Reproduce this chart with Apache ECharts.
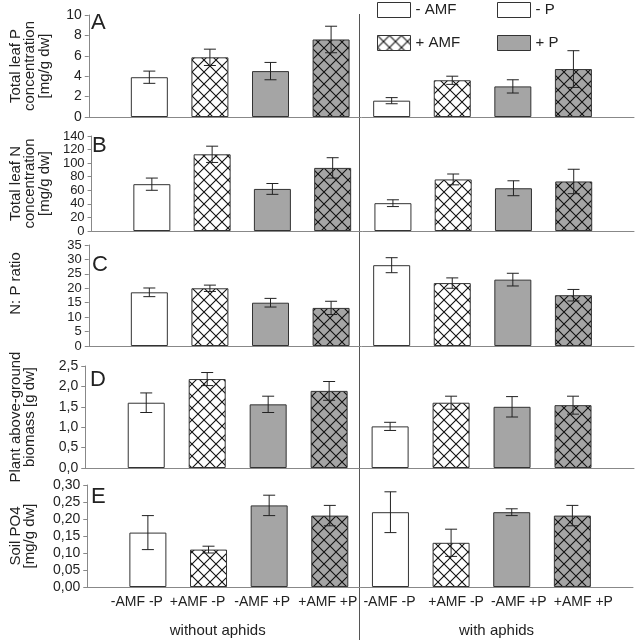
<!DOCTYPE html>
<html>
<head>
<meta charset="utf-8">
<script src="https://cdn.jsdelivr.net/npm/echarts@6/dist/echarts.min.js"></script>
<style>
    html, body { margin: 0; padding: 0; background: #fff; }
    #chart { width: 636px; height: 640px; }
</style>
</head>
<body>
<div id="chart"></div>
<script>
// bar order inside each aphid group
var treatments = ["-AMF -P", "+AMF -P", "-AMF +P", "+AMF +P"];
var aphidGroups = ["without aphids", "with aphids"];
var legendAMF = ["- AMF", "+ AMF"];
var legendP = ["- P", "+ P"];

// 4 bars without aphids, then 4 bars with aphids
var leafP = [3.9, 5.85, 4.5, 7.6, 1.6, 3.6, 3.0, 4.7];
var leafPErr = [0.6, 0.8, 0.85, 1.3, 0.3, 0.4, 0.65, 1.8];
var leafN = [69, 113, 62, 93, 41, 76, 63, 73];
var leafNErr = [9, 12, 8, 15, 5, 8, 11, 18];
var npRatio = [18.6, 20, 15, 13.2, 28, 21.8, 23, 17.6];
var npRatioErr = [1.5, 1.1, 1.5, 2.3, 2.6, 1.8, 2.2, 2.0];
var biomass = [1.6, 2.18, 1.56, 1.89, 1.02, 1.6, 1.5, 1.54];
var biomassErr = [0.24, 0.16, 0.2, 0.23, 0.1, 0.16, 0.25, 0.22];
var soilPO4 = [0.16, 0.11, 0.24, 0.21, 0.22, 0.13, 0.22, 0.21];
var soilPO4Err = [0.05, 0.01, 0.03, 0.03, 0.06, 0.04, 0.01, 0.03];

var FONT = "Liberation Sans, Arial, sans-serif";
var TXT = "#222";
var GRAY = "#a5a5a5";

// crosshatch fill made on a small canvas
function hatch(bg) {
    var c = document.createElement("canvas");
    c.width = 12;
    c.height = 12;
    var g = c.getContext("2d");
    g.fillStyle = bg;
    g.fillRect(0, 0, 12, 12);
    g.strokeStyle = "#111";
    g.lineWidth = 1.1;
    g.beginPath();
    g.moveTo(-1, -1); g.lineTo(13, 13);
    g.moveTo(13, -1); g.lineTo(-1, 13);
    g.stroke();
    return { image: c, repeat: "repeat" };
}

var fills = ["#fff", hatch("#fff"), GRAY, hatch(GRAY)];

var panels = [
    { key: "A", values: leafP, errs: leafPErr, max: 10, step: 2, dec: 0,
      name: "Total leaf P\nconcentration\n[mg/g dw]", top: 15, height: 102, left: 84, gap: 37, font: 14, keyTop: 12, keyLeft: 91 },
    { key: "B", values: leafN, errs: leafNErr, max: 140, step: 20, dec: 0,
      name: "Total leaf N\nconcentration\n[mg/g dw]", top: 136, height: 95, left: 84, gap: 37, font: 13, keyTop: 135, keyLeft: 92 },
    { key: "C", values: npRatio, errs: npRatioErr, max: 35, step: 5, dec: 0,
      name: "N: P ratio", top: 245, height: 101, left: 84, gap: 66, font: 13, keyTop: 254, keyLeft: 92, namePad: [0, 0, 0, 24] },
    { key: "D", values: biomass, errs: biomassErr, max: 2.5, step: 0.5, dec: 1,
      name: "Plant above-ground\nbiomass [g dw]", top: 366, height: 102, left: 82, gap: 48, font: 14, keyTop: 369, keyLeft: 90 },
    { key: "E", values: soilPO4, errs: soilPO4Err, max: 0.3, step: 0.05, dec: 2,
      name: "Soil PO4\n[mg/g dw]", top: 485, height: 102, left: 82, gap: 50, font: 14, keyTop: 486, keyLeft: 91 }
];

// x label nudges (px), the labels in the original are not under the bars
var labelShift = [-11, -11, -7, -2, -1, 5, 7, 11];

// 8 bars plus an empty slot at each end
var slots = [];
for (var s = 0; s < 10; s++) slots.push("s" + s);

var labelRich = {};
labelShift.forEach(function(sh, k) {
    labelRich["k" + k] = {
        fontSize: 14, color: TXT, fontFamily: FONT,
        padding: sh < 0 ? [0, -2 * sh, 0, 0] : [0, 0, 0, 2 * sh]
    };
});

function errorBars(params, api) {
    var x = api.value(0), v = api.value(1), e = api.value(2);
    var hi = api.coord([x, v + e]);
    var lo = api.coord([x, v - e]);
    var w = 6;
    var st = { stroke: "#222", lineWidth: 1 };
    return {
        type: "group",
        children: [
            { type: "line", shape: { x1: hi[0], y1: hi[1], x2: lo[0], y2: lo[1] }, style: st },
            { type: "line", shape: { x1: hi[0] - w, y1: hi[1], x2: hi[0] + w, y2: hi[1] }, style: st },
            { type: "line", shape: { x1: lo[0] - w, y1: lo[1], x2: lo[0] + w, y2: lo[1] }, style: st }
        ]
    };
}

var grids = [], xAxes = [], yAxes = [], series = [], titles = [];

panels.forEach(function(p, i) {
    grids.push({ left: p.left, right: 2, top: p.top, height: p.height });
    xAxes.push({
        type: "category",
        gridIndex: i,
        data: slots,
        boundaryGap: false,
        axisLine: { lineStyle: { color: "#888", width: 1 } },
        axisTick: { show: false },
        axisLabel: {
            show: i === panels.length - 1,
            interval: 0,
            margin: 8,
            formatter: function(v, idx) {
                if (idx < 1 || idx > 8) return "";
                return "{k" + (idx - 1) + "|" + treatments[(idx - 1) % 4] + "}";
            },
            rich: labelRich
        }
    });
    yAxes.push({
        type: "value",
        gridIndex: i,
        min: 0,
        max: p.max,
        interval: p.step,
        splitLine: { show: false },
        axisLine: { show: true, lineStyle: { color: "#888", width: 1 } },
        axisTick: { show: true, length: 4, lineStyle: { color: "#888" } },
        axisLabel: {
            fontSize: p.font, color: TXT, fontFamily: FONT, margin: 7,
            formatter: function(v) { return v.toFixed(p.dec).replace(".", ","); }
        },
        name: p.name,
        nameLocation: "middle",
        nameRotate: 90,
        nameGap: p.gap,
        nameTextStyle: { fontSize: 15, lineHeight: 14.5, color: TXT, fontFamily: FONT, padding: p.namePad || 0 }
    });

    var barData = [null];
    p.values.forEach(function(v, k) {
        barData.push({ value: v, itemStyle: { color: fills[k % 4] } });
    });
    barData.push(null);

    series.push({
        type: "bar",
        xAxisIndex: i,
        yAxisIndex: i,
        barWidth: 37,
        silent: true,
        itemStyle: { borderColor: "#333", borderWidth: 1 },
        data: barData
    });
    series.push({
        type: "custom",
        xAxisIndex: i,
        yAxisIndex: i,
        z: 5,
        silent: true,
        renderItem: errorBars,
        data: p.values.map(function(v, k) { return [k + 1, v, p.errs[k]]; })
    });

    titles.push({
        text: p.key, left: p.keyLeft, top: p.keyTop, padding: 0,
        textStyle: { fontSize: 22, fontWeight: "normal", color: TXT, fontFamily: FONT }
    });
});

// group names under the last panel
xAxes.push({
    type: "category",
    gridIndex: panels.length - 1,
    position: "bottom",
    offset: 28,
    data: aphidGroups,
    axisLine: { show: false },
    axisTick: { show: false },
    axisLabel: {
        margin: 8,
        formatter: function(v, idx) { return "{g" + idx + "|" + v + "}"; },
        rich: {
            g0: { fontSize: 15, color: TXT, fontFamily: FONT, padding: [0, 12, 0, 0] },
            g1: { fontSize: 15, color: TXT, fontFamily: FONT }
        }
    }
});

// hidden grid only carrying the legend entries
var legendGrid = grids.length;
grids.push({ left: 0, top: 0, width: 1, height: 1, show: false });
xAxes.push({ type: "category", gridIndex: legendGrid, show: false, data: ["x"] });
yAxes.push({ type: "value", gridIndex: legendGrid, show: false });
var legendFills = {};
legendFills[legendAMF[0]] = "#fff";
legendFills[legendAMF[1]] = fills[1];
legendFills[legendP[0]] = "#fff";
legendFills[legendP[1]] = GRAY;
legendAMF.concat(legendP).forEach(function(n) {
    series.push({
        type: "bar",
        name: n,
        xAxisIndex: xAxes.length - 1,
        yAxisIndex: yAxes.length - 1,
        itemStyle: { color: legendFills[n], borderColor: "#333", borderWidth: 1 },
        data: []
    });
});

function legendAt(names, left) {
    return {
        data: names,
        left: left,
        top: 2,
        orient: "vertical",
        icon: "rect",
        itemWidth: 33,
        itemHeight: 15,
        itemGap: 17,
        padding: 0,
        selectedMode: false,
        itemStyle: { borderColor: "#333", borderWidth: 1 },
        textStyle: { fontSize: 15, lineHeight: 15, color: TXT, fontFamily: FONT }
    };
}

var myChart = echarts.init(document.getElementById("chart"));
myChart.setOption({
    animation: false,
    title: titles,
    legend: [legendAt(legendAMF, 377), legendAt(legendP, 497)],
    grid: grids,
    xAxis: xAxes,
    yAxis: yAxes,
    series: series,
    graphic: [{
        type: "line",
        shape: { x1: 359.5, y1: 14, x2: 359.5, y2: 640 },
        style: { stroke: "#555", lineWidth: 1 },
        silent: true
    }]
});
</script>
</body>
</html>
